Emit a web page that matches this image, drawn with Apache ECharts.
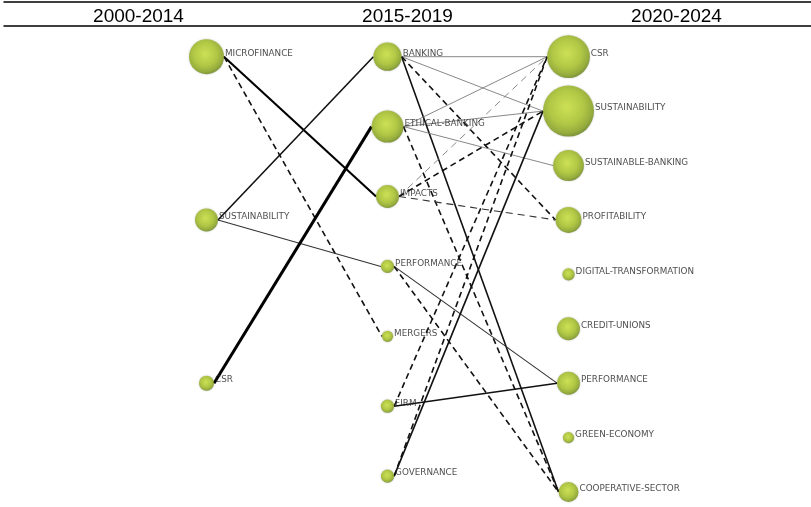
<!DOCTYPE html>
<html><head><meta charset="utf-8">
<script src="https://cdn.jsdelivr.net/npm/echarts@6/dist/echarts.min.js"></script>
<style>html,body{margin:0;padding:0;background:#fff}#c{width:811px;height:507px}</style>
</head><body><div id="c"></div>
<script>
// ---- data ----
const periods = ['2000-2014', '2015-2019', '2020-2024'];
const themes1 = ['MICROFINANCE', 'SUSTAINABILITY', 'CSR'];
const docs1 = [49, 21, 9];
const themes2 = ['BANKING', 'ETHICAL-BANKING', 'IMPACTS', 'PERFORMANCE', 'MERGERS', 'FIRM', 'GOVERNANCE'];
const docs2 = [32, 41, 21, 7, 5, 7, 7];
const themes3 = ['CSR', 'SUSTAINABILITY', 'SUSTAINABLE-BANKING', 'PROFITABILITY', 'DIGITAL-TRANSFORMATION', 'CREDIT-UNIONS', 'PERFORMANCE', 'GREEN-ECONOMY', 'COOPERATIVE-SECTOR'];
const docs3 = [73, 104, 38, 27, 6, 21, 21, 5, 16];
// links: [from theme, to theme, kind, strength 0..4]
const links12 = [
  ['MICROFINANCE', 'IMPACTS', 'solid', 3],
  ['MICROFINANCE', 'MERGERS', 'dashed', 2],
  ['SUSTAINABILITY', 'BANKING', 'solid', 2],
  ['SUSTAINABILITY', 'PERFORMANCE', 'solid', 1],
  ['CSR', 'ETHICAL-BANKING', 'solid', 4]
];
const links23 = [
  ['BANKING', 'CSR', 'solid', 0],
  ['BANKING', 'SUSTAINABILITY', 'solid', 0],
  ['BANKING', 'PROFITABILITY', 'dashed', 2],
  ['BANKING', 'COOPERATIVE-SECTOR', 'solid', 2],
  ['ETHICAL-BANKING', 'CSR', 'solid', 0],
  ['ETHICAL-BANKING', 'SUSTAINABILITY', 'solid', 0],
  ['ETHICAL-BANKING', 'SUSTAINABLE-BANKING', 'solid', 0],
  ['ETHICAL-BANKING', 'COOPERATIVE-SECTOR', 'dashed', 2],
  ['IMPACTS', 'CSR', 'dashed', 0],
  ['IMPACTS', 'SUSTAINABILITY', 'dashed', 2],
  ['IMPACTS', 'PROFITABILITY', 'dashed', 1],
  ['PERFORMANCE', 'PERFORMANCE', 'solid', 1],
  ['PERFORMANCE', 'COOPERATIVE-SECTOR', 'dashed', 2],
  ['FIRM', 'PERFORMANCE', 'solid', 2],
  ['FIRM', 'CSR', 'dashed', 2],
  ['GOVERNANCE', 'CSR', 'dashed', 2],
  ['GOVERNANCE', 'SUSTAINABILITY', 'solid', 2]
];

// ---- layout & style ----
const rowStep = [3, 1.2847, 1];
const sizeK = 5;
const strengthStyle = [
  {w: 0.9, c: '#7a7a7a', d: [7, 5]},
  {w: 1.1, c: '#333333', d: [7, 5]},
  {w: 1.6, c: '#111111', d: [6, 4]},
  {w: 2.1, c: '#000000', d: [6, 4]},
  {w: 3.0, c: '#000000', d: [6, 4]}
];
const cols = [[themes1, docs1], [themes2, docs2], [themes3, docs3]];
const nodePos = cols.map(([names, docs], ci) => {
  const m = {};
  names.forEach((n, i) => { m[n] = {x: ci, y: i * rowStep[ci], r: sizeK * Math.sqrt(docs[i]) / 2}; });
  return m;
});
const nodeData = [];
cols.forEach(([names, docs], ci) => {
  names.forEach((n, i) => {
    nodeData.push({name: n, value: [ci, i * rowStep[ci]], symbolSize: sizeK * Math.sqrt(docs[i])});
  });
});
const linkData = [], linkMeta = [];
[[links12, 0], [links23, 1]].forEach(([ls, p]) => {
  ls.forEach(([a, b, kind, s]) => {
    const A = nodePos[p][a], B = nodePos[p + 1][b];
    linkData.push([A.x, A.y, B.x, B.y]);
    const st = strengthStyle[s];
    linkMeta.push({r1: A.r, r2: B.r, w: st.w, c: st.c, dash: kind === 'dashed' ? st.d : null});
  });
});

const sphere = {
  type: 'radial', x: 0.46, y: 0.42, r: 0.6,
  colorStops: [
    {offset: 0, color: '#cfe83a'},
    {offset: 0.55, color: '#adc926'},
    {offset: 0.85, color: '#8aa61c'},
    {offset: 1, color: '#627d14'}
  ]
};

const chart = echarts.init(document.getElementById('c'));
chart.setOption({
  animation: false,
  grid: [
    {left: 4, right: 0, top: 2, height: 24},
    {left: 206.5, right: 242.5, top: 56.7, bottom: 15}
  ],
  xAxis: [
    {type: 'category', gridIndex: 0, position: 'top', data: periods,
     axisLine: {onZero: false, lineStyle: {color: '#000', width: 1.5}},
     axisTick: {show: false},
     axisLabel: {inside: true, margin: 5, fontSize: 19, color: '#000', fontFamily: 'Liberation Sans, Arial, sans-serif'}},
    {type: 'category', gridIndex: 0, position: 'bottom', data: periods,
     axisLine: {onZero: false, lineStyle: {color: '#000', width: 1.5}},
     axisTick: {show: false}, axisLabel: {show: false}},
    {type: 'value', gridIndex: 1, min: 0, max: 2, show: false}
  ],
  yAxis: [
    {type: 'value', gridIndex: 0, min: 0, max: 1, show: false},
    {type: 'value', gridIndex: 1, min: 0, max: 8, inverse: true, show: false}
  ],
  series: [
    {
      type: 'custom', xAxisIndex: 2, yAxisIndex: 1, z: 1, clip: false,
      data: linkData,
      encode: {x: [0, 2], y: [1, 3]},
      renderItem: function (params, api) {
        const p1 = api.coord([api.value(0), api.value(1)]);
        const p2 = api.coord([api.value(2), api.value(3)]);
        const L = linkMeta[params.dataIndex];
        return {
          type: 'line',
          shape: {x1: p1[0] + L.r1, y1: p1[1], x2: p2[0] - L.r2, y2: p2[1]},
          style: {stroke: L.c, lineWidth: L.w, lineDash: L.dash, fill: null}
        };
      }
    },
    {
      type: 'scatter', xAxisIndex: 2, yAxisIndex: 1, z: 3, clip: false,
      data: nodeData,
      itemStyle: {color: sphere, shadowBlur: 2, shadowColor: 'rgba(0,0,0,0.3)'},
      label: {
        show: true, position: 'right', distance: 1, offset: [0, -3],
        formatter: '{b}', fontSize: 8.8, color: '#222',
        fontFamily: 'DejaVu Sans, Verdana, sans-serif'
      },
      emphasis: {disabled: true}
    }
  ]
});
</script>
</body></html>
